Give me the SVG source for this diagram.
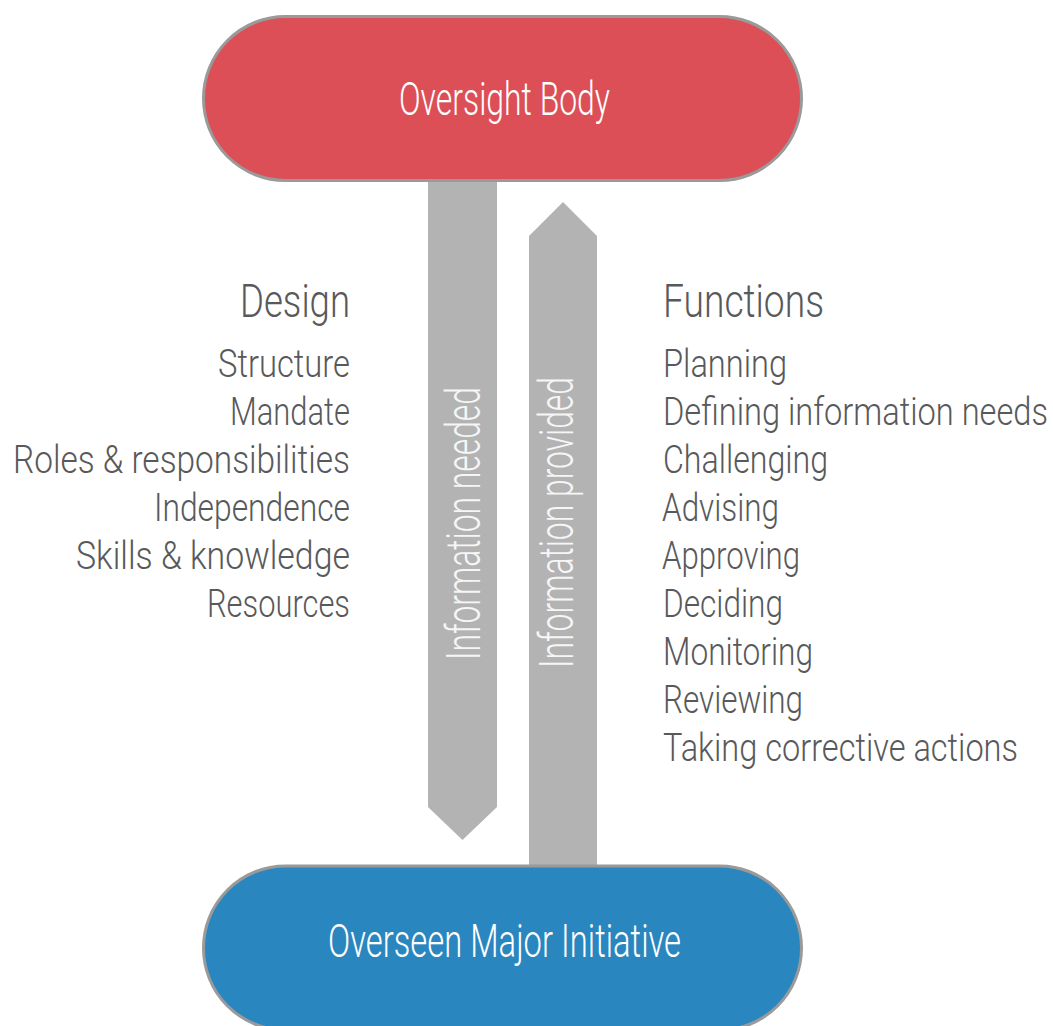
<svg xmlns="http://www.w3.org/2000/svg" width="1053" height="1026" viewBox="0 0 1053 1026">
<style>
.pill{stroke:#9a9a9a;stroke-width:3}
text{font-family:Roboto,"Liberation Sans",Arial,sans-serif;font-weight:300}
.pt{font-size:46px;fill:#ffffff}
.arrow{fill:#b3b3b3}
.vt{font-size:48px;fill:#f6f6f6;text-anchor:middle}
.hd{font-size:46px;fill:#58595b}
.it{font-size:38px;fill:#58595b}
</style>
<rect width="1053" height="1026" fill="#ffffff"/>
<g id="connectors">
  <g id="info-needed">
    <polygon class="arrow" points="428,175 497,175 497,807 462.5,840 428,807"/>
    <text class="vt" transform="translate(480,523.5) rotate(-90)" x="0" y="0" textLength="273" lengthAdjust="spacingAndGlyphs">Information needed</text>
  </g>
  <g id="info-provided">
    <polygon class="arrow" points="563,202 597,236 597,870 529,870 529,236"/>
    <text class="vt" transform="translate(573,522.5) rotate(-90)" x="0" y="0" textLength="291" lengthAdjust="spacingAndGlyphs">Information provided</text>
  </g>
</g>
<g id="oversight-body">
  <rect class="pill" x="203.5" y="16.5" width="598" height="164" rx="82" fill="#dc4f57"/>
  <text class="pt" x="399" y="115" textLength="211" lengthAdjust="spacingAndGlyphs">Oversight Body</text>
</g>
<g id="overseen-initiative">
  <rect class="pill" x="203.5" y="866" width="598" height="164" rx="82" fill="#2a86bf"/>
  <text class="pt" x="328" y="957" textLength="353" lengthAdjust="spacingAndGlyphs">Overseen Major Initiative</text>
</g>
<g id="design">
  <text class="hd" x="240" y="317" textLength="110" lengthAdjust="spacingAndGlyphs">Design</text>
  <text class="it" x="218" y="377" textLength="132" lengthAdjust="spacingAndGlyphs">Structure</text>
  <text class="it" x="230" y="425" textLength="120" lengthAdjust="spacingAndGlyphs">Mandate</text>
  <text class="it" x="13" y="473" textLength="337" lengthAdjust="spacingAndGlyphs">Roles &amp; responsibilities</text>
  <text class="it" x="154" y="521" textLength="196" lengthAdjust="spacingAndGlyphs">Independence</text>
  <text class="it" x="76" y="569" textLength="274" lengthAdjust="spacingAndGlyphs">Skills &amp; knowledge</text>
  <text class="it" x="207" y="617" textLength="143" lengthAdjust="spacingAndGlyphs">Resources</text>
</g>
<g id="functions">
  <text class="hd" x="663" y="317" textLength="161" lengthAdjust="spacingAndGlyphs">Functions</text>
  <text class="it" x="663" y="377" textLength="124" lengthAdjust="spacingAndGlyphs">Planning</text>
  <text class="it" x="663" y="425" textLength="385" lengthAdjust="spacingAndGlyphs">Defining information needs</text>
  <text class="it" x="663" y="473" textLength="165" lengthAdjust="spacingAndGlyphs">Challenging</text>
  <text class="it" x="662" y="521" textLength="117" lengthAdjust="spacingAndGlyphs">Advising</text>
  <text class="it" x="662" y="569" textLength="138" lengthAdjust="spacingAndGlyphs">Approving</text>
  <text class="it" x="663" y="617" textLength="120" lengthAdjust="spacingAndGlyphs">Deciding</text>
  <text class="it" x="663" y="665" textLength="150" lengthAdjust="spacingAndGlyphs">Monitoring</text>
  <text class="it" x="663" y="713" textLength="140" lengthAdjust="spacingAndGlyphs">Reviewing</text>
  <text class="it" x="663" y="761" textLength="355" lengthAdjust="spacingAndGlyphs">Taking corrective actions</text>
</g>
</svg>
